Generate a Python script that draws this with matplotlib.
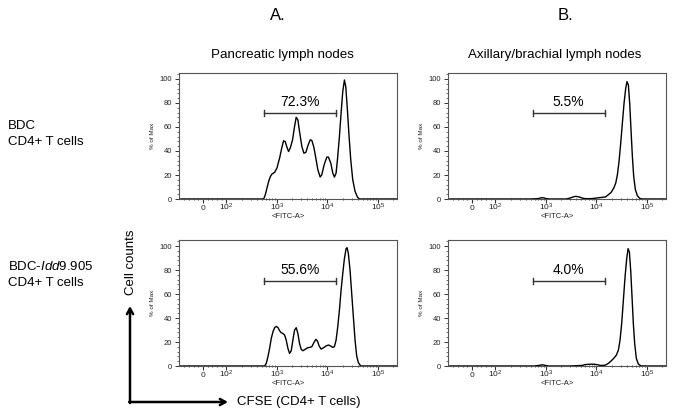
import numpy as np
import matplotlib
matplotlib.use("Agg")
import matplotlib.pyplot as plt
from matplotlib.ticker import FixedLocator, MultipleLocator, NullFormatter
from matplotlib.patches import FancyArrowPatch

plt.rcParams['font.family'] = ['Liberation Sans', 'DejaVu Sans']
plt.rcParams['mathtext.fontset'] = 'custom'
plt.rcParams['mathtext.rm'] = 'Liberation Sans'
plt.rcParams['mathtext.it'] = 'Liberation Sans:italic'
plt.rcParams['mathtext.bf'] = 'Liberation Sans:bold'

# ---------------- data (FITC intensity, % of max) ----------------
tl_x = [-102, 0, 100, 300, 546, 589, 635, 686, 739, 797, 900, 1000, 1129, 1256, 1354, 1460,
        1575, 1698, 1833, 2037, 2232, 2408, 2597, 2800, 3112, 3409, 3735, 4091, 4549, 4909,
        5375, 5888, 6449, 7170, 7731, 8596, 9702, 10470, 11640, 12750, 13740, 14820, 15990,
        17250, 18610, 20080, 21660, 23030, 24840, 26790, 28900, 31630, 35170, 39110, 42850,
        80000, 238000]
tl_y = [0, 0, 0, 0, 0, 3.6, 9.1, 14.7, 18.6, 20.8, 22.2, 25.8, 34.1, 43.2, 48.5, 47.9,
        43.2, 39.6, 42.4, 49.3, 60.4, 68.1, 65.9, 56.2, 43.8, 38.2, 38.8, 44.3, 49.3, 48.8,
        43.2, 34.1, 24.4, 18.3, 20.2, 28.5, 34.9, 34.9, 29.9, 21.6, 18.3, 21.6, 35.5,
        52.1, 71.5, 89.5, 99.2, 93.6, 74.2, 52.1, 32.7, 16.1, 6.4, 1.7, 0,
        0, 0]

bl_x = [-102, 0, 100, 300, 572, 615, 664, 716, 772, 834, 900, 970, 1047, 1129, 1218, 1314,
        1417, 1528, 1649, 1778, 1918, 2069, 2232, 2408, 2597, 2800, 3021, 3259, 3623, 4028,
        4478, 4909, 5375, 5888, 6351, 6851, 7504, 8343, 9276, 10470, 11640, 12750, 13740,
        14820, 15990, 17250, 18610, 20080, 21660, 23360, 24460, 25960, 28000, 30200, 32580,
        35170, 37930, 40920, 45500, 80000, 238000]
bl_y = [0, 0, 0, 0, 0, 2.2, 7.8, 14.7, 23.0, 28.5, 31.9, 33.0, 32.1, 29.4, 27.7, 27.1,
        25.8, 21.6, 14.7, 10.5, 12.7, 21.6, 29.9, 31.9, 27.1, 18.8, 13.9, 12.7, 13.9, 15.2,
        15.5, 16.1, 19.4, 22.2, 20.8, 16.6, 14.1, 15.2, 16.6, 17.5, 16.6, 15.5, 16.1,
        21.6, 32.7, 46.5, 63.2, 77.0, 89.5, 97.8, 98.6, 93.6, 79.8, 60.4, 41.0,
        21.6, 8.3, 2.8, 0, 0, 0]

tr_x = [-102, 0, 100, 500, 700, 800, 900, 1000, 1200, 2500, 3000, 3500, 3900, 4500, 5200,
        6000, 8000, 10000, 12000, 15100, 17250, 19500, 22000, 24100, 25960, 28000, 30200,
        32580, 35170, 37930, 40270, 42850, 45500, 48300, 51400, 54600, 58900, 64400, 71600,
        78500, 120000, 238000]
tr_y = [0, 0, 0, 0, 0.3, 1.0, 1.0, 0.3, 0, 0, 0.8, 1.8, 2.2, 1.8, 0.8,
        0.3, 0.3, 0.8, 1.2, 1.7, 3.6, 5.5, 9.1, 13.3, 20.2, 31.3, 46.5,
        63.2, 79.8, 92.2, 97.8, 95.0, 79.8, 57.6, 35.5, 18.8, 7.8, 2.8, 0.6,
        0, 0, 0]

br_x = [-102, 0, 100, 600, 750, 850, 950, 1100, 3000, 5250, 6000, 7500, 9000, 10500, 12000,
        13500, 15100, 17250, 19500, 22000, 24800, 27200, 29300, 31600, 34100, 36800, 39700,
        42200, 44800, 47600, 50600, 53700, 57100, 61500, 67400, 76200, 120000, 238000]
br_y = [0, 0, 0, 0, 0.6, 1.0, 0.6, 0, 0, 0.5, 1.2, 1.5, 1.5, 1.0, 0.5,
        0.5, 0.8, 2.2, 4.2, 6.4, 9.1, 13.3, 21.6, 35.5, 54.8, 74.2, 89.5,
        97.8, 95.0, 79.8, 57.6, 35.5, 18.8, 6.4, 1.7, 0, 0, 0]

gate_lo = 550
gate_hi = 14500
gate_y = [71.5, 71.5, 70.6, 70.6]
gate_pct = ["72.3%", "5.5%", "55.6%", "4.0%"]

col_titles = ["A.", "B."]
col_subtitles = ["Pancreatic lymph nodes", "Axillary/brachial lymph nodes"]

xtick_vals = [0, 1e2, 1e3, 1e4, 1e5]
xtick_labels = ["0", "$10^2$", "$10^3$", "$10^4$", "$10^5$"]

# ---------------- figure ----------------
W, H = 675, 415
fig = plt.figure(figsize=(W / 100, H / 100), dpi=100)

def fx(px):
    return px / W

def fy(py):
    return 1 - py / H

panel_left = [179, 448]
panel_top = [73, 240]
pw, ph = 218, 126

series = [(tl_x, tl_y), (tr_x, tr_y), (bl_x, bl_y), (br_x, br_y)]

minor_x = ([-80, -60, -40, -20, 20, 40, 60, 80] +
           [m * 10 ** k for k in range(2, 6) for m in range(2, 10)])

k = 0
for r in range(2):
    for c in range(2):
        ax = fig.add_axes([fx(panel_left[c]), fy(panel_top[r] + ph), fx(pw), ph / H])
        xs, ys = series[k]
        ax.set_xscale('symlog', linthresh=100, linscale=0.4185)
        ax.plot(xs, ys, color='black', lw=1.0, solid_joinstyle='round')
        ax.set_xlim(-102, 238000)
        ax.set_ylim(0, 105)
        for s in ax.spines.values():
            s.set_color('#555555')
            s.set_linewidth(0.8)
        ax.xaxis.set_major_locator(FixedLocator(xtick_vals))
        ax.set_xticklabels([])
        ax.xaxis.set_minor_locator(FixedLocator(minor_x))
        ax.xaxis.set_minor_formatter(NullFormatter())
        ax.yaxis.set_major_locator(MultipleLocator(20))
        ax.yaxis.set_minor_locator(MultipleLocator(4))
        ax.tick_params(axis='x', which='major', length=3, width=0.8, color='#333333')
        ax.tick_params(axis='x', which='minor', length=2, width=0.6, color='#333333',
                       direction='inout')
        ax.tick_params(axis='y', which='major', labelsize=5.5, length=3, width=0.7,
                       color='#333333', pad=2, labelcolor='#222222')
        ax.tick_params(axis='y', which='minor', length=1.5, width=0.5, color='#333333')
        for lab_v, lab_t in zip(xtick_vals, xtick_labels):
            ly = -0.095 if lab_t.startswith('$') else -0.085
            ax.text(lab_v, ly, lab_t, transform=ax.get_xaxis_transform(),
                    ha='center', va='baseline', fontsize=6, color='#222222')
        ax.text(1650, -0.15, "<FITC-A>", transform=ax.get_xaxis_transform(),
                ha='center', va='baseline', fontsize=5.5, color='#222222')
        ax.set_ylabel("% of Max", fontsize=4.5, labelpad=3, color='#222222')
        # gate
        gy = gate_y[k]
        ax.plot([gate_lo, gate_hi], [gy, gy], color='#333333', lw=1.0)
        ax.plot([gate_lo, gate_lo], [gy - 2.5, gy + 2.5], color='#333333', lw=1.0)
        ax.plot([gate_hi, gate_hi], [gy - 2.5, gy + 2.5], color='#333333', lw=1.0)
        gmid = np.sqrt(gate_lo * gate_hi)
        ax.text(gmid, gy + 3.5, gate_pct[k], ha='center', va='bottom', fontsize=10)
        k += 1

# column headers
fig.text(fx(278), fy(15), col_titles[0], ha='center', va='center', fontsize=12)
fig.text(fx(565), fy(15), col_titles[1], ha='center', va='center', fontsize=12)
fig.text(fx(282), fy(55), col_subtitles[0], ha='center', va='center', fontsize=9.6)
fig.text(fx(555), fy(55), col_subtitles[1], ha='center', va='center', fontsize=9.6)

# row labels
fig.text(fx(8), fy(126), "BDC", ha='left', va='center', fontsize=9.5)
fig.text(fx(8), fy(142), "CD4+ T cells", ha='left', va='center', fontsize=9.5)
fig.text(fx(8), fy(267), r"BDC-$\mathit{Idd9}$.905", ha='left', va='center', fontsize=9.5)
fig.text(fx(8), fy(283), "CD4+ T cells", ha='left', va='center', fontsize=9.5)

# axes arrows
fig.text(fx(131), fy(262), "Cell counts", ha='center', va='center', rotation=90, fontsize=9.5)
fig.text(fx(237), fy(402), "CFSE (CD4+ T cells)", ha='left', va='center', fontsize=9.5)
a1 = FancyArrowPatch((fx(130), fy(403)), (fx(130), fy(306)), transform=fig.transFigure,
                     arrowstyle='->,head_length=4,head_width=2.2', lw=1.8, color='black',
                     shrinkA=0, shrinkB=0)
a2 = FancyArrowPatch((fx(129.2), fy(402)), (fx(228), fy(402)), transform=fig.transFigure,
                     arrowstyle='->,head_length=4,head_width=2.2', lw=1.8, color='black',
                     shrinkA=0, shrinkB=0)
fig.add_artist(a1)
fig.add_artist(a2)

fig.savefig("out.png", dpi=100)
